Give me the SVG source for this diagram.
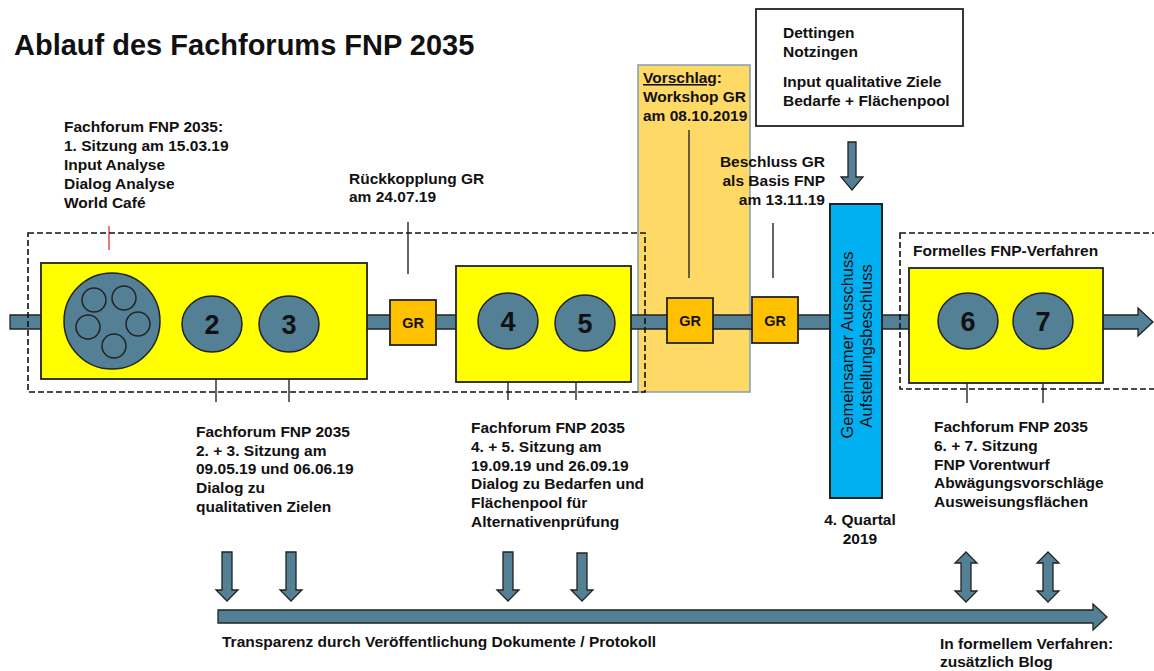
<svg xmlns="http://www.w3.org/2000/svg" width="1154" height="671" viewBox="0 0 1154 671">
<style>
text{font-family:"Liberation Sans",Arial,sans-serif;fill:#111}
.b{font-weight:bold;font-size:15.5px}
.num{font-weight:bold;font-size:27px;text-anchor:middle}
.gr{font-weight:bold;font-size:14.5px;text-anchor:middle}
.yel{fill:#FFFF00;stroke:#222;stroke-width:1.8}
.ell{fill:#548096;stroke:#222;stroke-width:1.5}
.grb{fill:#FFC000;stroke:#222;stroke-width:1.8}
.dash{fill:none;stroke:#111;stroke-width:1.6;stroke-dasharray:6 3}
.tick{stroke:#333;stroke-width:1.5}
.arr{fill:#548096;stroke:#222;stroke-width:1.3}
</style>
<rect width="1154" height="671" fill="#fff"/>
<text x="14" y="55" style="font-weight:bold;font-size:29px">Ablauf des Fachforums FNP 2035</text>

<!-- Vorschlag column -->
<g id="vorschlag">
<rect x="638" y="65" width="112" height="327" fill="#FFD966" stroke="#7F9DB9" stroke-width="1.5"/>
<text class="b" x="643" y="83"><tspan text-decoration="underline">Vorschlag</tspan>:</text>
<text class="b" x="643" y="102">Workshop GR</text>
<text class="b" x="643" y="121">am 08.10.2019</text>
</g>

<!-- connectors -->
<g id="connectors">
<polygon class="arr" points="10,315 1138,315 1138,308 1153,322 1138,336 1138,329 10,329"/>
<line x1="109" y1="226" x2="109" y2="250" stroke="#E05050" stroke-width="1.5"/>
<line class="tick" x1="408" y1="222" x2="408" y2="274"/>
<line class="tick" x1="689" y1="130" x2="689" y2="278"/>
<line class="tick" x1="773" y1="223" x2="773" y2="278"/>
<line class="tick" x1="216" y1="373" x2="216" y2="402"/>
<line class="tick" x1="289" y1="373" x2="289" y2="402"/>
<line class="tick" x1="508" y1="373" x2="508" y2="400"/>
<line class="tick" x1="576" y1="373" x2="576" y2="400"/>
<line class="tick" x1="967" y1="373" x2="967" y2="403"/>
<line class="tick" x1="1043" y1="373" x2="1043" y2="403"/>
<polygon class="arr" points="848,142 856,142 856,177 863,177 852,190 841,177 848,177"/>
<!-- bottom -->
<polygon class="arr" points="218,610 1093,610 1093,604 1107,617 1093,630 1093,623 218,623"/>
<polygon class="arr" points="222,552 232,552 232,590 238,590 227,601 216,590 222,590"/>
<polygon class="arr" points="286,552 296,552 296,590 302,590 291,601 280,590 286,590"/>
<polygon class="arr" points="503,552 513,552 513,590 519,590 508,601 497,590 503,590"/>
<polygon class="arr" points="577,553 587,553 587,590 593,590 582,601 571,590 577,590"/>
<polygon class="arr" points="966,552 977,563 971,563 971,591 977,591 966,602 955,591 961,591 961,563 955,563"/>
<polygon class="arr" points="1048,552 1059,563 1053,563 1053,591 1059,591 1048,602 1037,591 1043,591 1043,563 1037,563"/>
</g>

<rect class="dash" x="28" y="233" width="617" height="159"/>
<rect class="dash" x="900" y="233" width="270" height="156"/>

<g id="box1">
<rect class="yel" x="41" y="263" width="326" height="116"/>
<circle class="ell" cx="112" cy="321" r="48"/>
<circle class="ell" cx="94" cy="300" r="12"/>
<circle class="ell" cx="124" cy="298" r="12"/>
<circle class="ell" cx="88" cy="327" r="12"/>
<circle class="ell" cx="138" cy="324" r="12"/>
<circle class="ell" cx="114" cy="346" r="12"/>
<ellipse class="ell" cx="212" cy="324" rx="30" ry="28"/>
<text class="num" x="212" y="334">2</text>
<ellipse class="ell" cx="289" cy="324" rx="30" ry="28"/>
<text class="num" x="289" y="334">3</text>
</g>

<g id="gr1"><rect class="grb" x="390" y="300" width="46" height="45"/><text class="gr" x="413" y="328">GR</text></g>

<g id="box2">
<rect class="yel" x="456" y="266" width="175" height="116"/>
<ellipse class="ell" cx="508" cy="321" rx="30" ry="28"/>
<text class="num" x="508" y="331">4</text>
<ellipse class="ell" cx="585" cy="323" rx="30" ry="28"/>
<text class="num" x="585" y="333">5</text>
</g>

<g id="gr2"><rect class="grb" x="667" y="298" width="46" height="45"/><text class="gr" x="690" y="326">GR</text></g>
<g id="gr3"><rect class="grb" x="752" y="297" width="46" height="46"/><text class="gr" x="775" y="326">GR</text></g>

<g id="ausschuss">
<rect x="830" y="204" width="52" height="294" fill="#00B0F0" stroke="#222" stroke-width="2"/>
<text transform="translate(853,345) rotate(-90)" text-anchor="middle" style="font-size:16.5px">Gemeinsamer Ausschuss</text>
<text transform="translate(872,346) rotate(-90)" text-anchor="middle" style="font-size:16.5px">Aufstellungsbeschluss</text>
</g>

<g id="box3">
<rect class="yel" x="909" y="268" width="194" height="115"/>
<ellipse class="ell" cx="968" cy="321" rx="30" ry="28"/>
<text class="num" x="968" y="331">6</text>
<ellipse class="ell" cx="1043" cy="321" rx="30" ry="28"/>
<text class="num" x="1043" y="331">7</text>
</g>
<text class="b" x="913" y="256">Formelles FNP-Verfahren</text>

<g id="input">
<rect x="756" y="9" width="207" height="117" fill="#fff" stroke="#222" stroke-width="1.8"/>
<text class="b" x="783" y="38">Dettingen</text>
<text class="b" x="783" y="57">Notzingen</text>
<text class="b" x="783" y="87">Input qualitative Ziele</text>
<text class="b" x="783" y="106">Bedarfe + Flächenpool</text>
</g>

<g id="labels">
<text class="b" x="64" y="132">Fachforum FNP 2035:</text>
<text class="b" x="64" y="151">1. Sitzung am 15.03.19</text>
<text class="b" x="64" y="170">Input Analyse</text>
<text class="b" x="64" y="189">Dialog Analyse</text>
<text class="b" x="64" y="208">World Café</text>

<text class="b" x="349" y="184">Rückkopplung GR</text>
<text class="b" x="349" y="202">am 24.07.19</text>

<text class="b" x="825" y="167" text-anchor="end">Beschluss GR</text>
<text class="b" x="825" y="186" text-anchor="end">als Basis FNP</text>
<text class="b" x="825" y="205" text-anchor="end">am 13.11.19</text>

<text class="b" x="196" y="437">Fachforum FNP 2035</text>
<text class="b" x="196" y="456">2. + 3. Sitzung am</text>
<text class="b" x="196" y="474">09.05.19 und 06.06.19</text>
<text class="b" x="196" y="493">Dialog zu</text>
<text class="b" x="196" y="512">qualitativen Zielen</text>

<text class="b" x="471" y="433">Fachforum FNP 2035</text>
<text class="b" x="471" y="452">4. + 5. Sitzung am</text>
<text class="b" x="471" y="471">19.09.19 und 26.09.19</text>
<text class="b" x="471" y="489">Dialog zu Bedarfen und</text>
<text class="b" x="471" y="508">Flächenpool für</text>
<text class="b" x="471" y="527">Alternativenprüfung</text>

<text class="b" x="934" y="432">Fachforum FNP 2035</text>
<text class="b" x="934" y="451">6. + 7. Sitzung</text>
<text class="b" x="934" y="470">FNP Vorentwurf</text>
<text class="b" x="934" y="488">Abwägungsvorschläge</text>
<text class="b" x="934" y="507">Ausweisungsflächen</text>

<text class="b" x="860" y="525" text-anchor="middle">4. Quartal</text>
<text class="b" x="860" y="544" text-anchor="middle">2019</text>

<text class="b" x="222" y="647">Transparenz durch Veröffentlichung Dokumente / Protokoll</text>
<text class="b" x="940" y="649">In formellem Verfahren:</text>
<text class="b" x="940" y="667">zusätzlich Blog</text>
</g>
</svg>
